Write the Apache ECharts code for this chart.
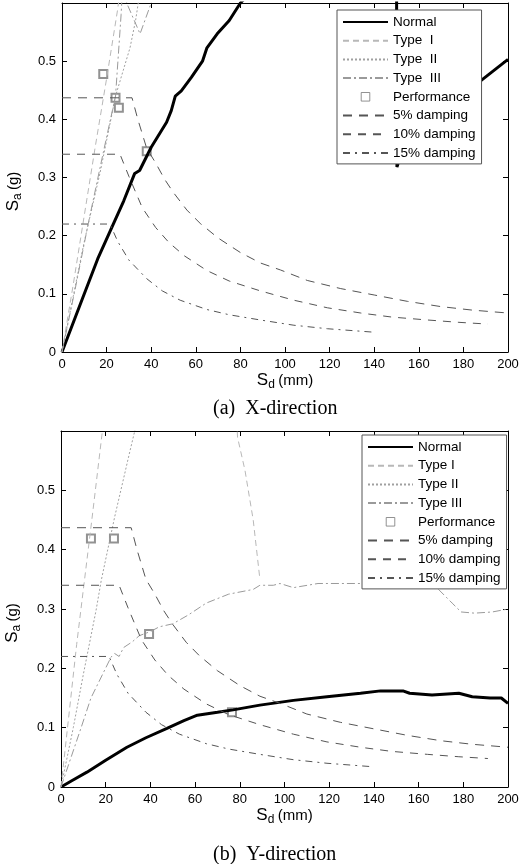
<!DOCTYPE html>
<html>
<head>
<meta charset="utf-8">
<script src="https://cdn.jsdelivr.net/npm/echarts@6/dist/echarts.min.js"></script>
<style>
  html, body { margin: 0; padding: 0; background: #fff; }
  #main { width: 519px; height: 864px; }
</style>
</head>
<body>
<div id="main"></div>
<script>
// ---- data: [Sd (mm), Sa (g)] ----
// (a) X-direction
const normalX = [[0,0],[9.4,0.094],[16,0.16],[22.8,0.218],[27.7,0.26],[32.6,0.307],[34.8,0.312],[40,0.352],[46.9,0.395],[49,0.415],[50.8,0.44],[53.5,0.449],[58,0.472],[63,0.5],[65,0.523],[69.6,0.547],[75,0.57],[80,0.6],[90,0.64],[150,0.7],[150.2,0.318],[152,0.34],[160,0.37],[175,0.42],[188,0.467],[200,0.503]];
const type1X = [[0,0],[5,0.115],[10,0.235],[15,0.355],[20,0.47],[25,0.59],[26,0.62]];
const type2X = [[0,0],[5,0.095],[10,0.19],[17,0.307],[20.6,0.375],[24,0.44],[30.5,0.523],[33,0.57],[35,0.62]];
const type3X = [[0,0],[6,0.11],[12,0.225],[18.4,0.341],[24,0.44],[26.5,0.58],[27.5,0.65],[29,0.6],[35,0.547],[40,0.6],[42,0.63]];
const perfX = [[18.5,0.478],[24,0.437],[25.5,0.42],[38,0.345]];

// (b) Y-direction
const normalY = [[0,0],[5,0.011],[11.6,0.025],[20,0.045],[29.5,0.067],[38,0.083],[47.4,0.099],[55,0.112],[61,0.121],[70,0.126],[77,0.13],[89,0.138],[104,0.146],[119,0.152],[134,0.158],[143,0.162],[153,0.162],[156,0.158],[166,0.155],[178,0.158],[184,0.152],[192,0.15],[197,0.15],[200,0.141]];
const type1Y = [[0,0],[7,0.24],[14.3,0.466],[18.3,0.593],[20,0.65],[50,0.8],[78,0.66],[79,0.589],[82.3,0.534],[86,0.45],[89,0.35]];
const type2Y = [[0,0],[5.5,0.1],[10,0.19],[15.7,0.298],[18,0.348],[24,0.455],[30.9,0.567],[33,0.6],[34,0.62]];
const type3Y = [[0,0],[9,0.1],[13.4,0.15],[22.4,0.219],[24,0.225],[26,0.22],[28,0.235],[32,0.245],[35,0.255],[40,0.262],[44,0.27],[50,0.275],[57,0.29],[65,0.31],[75,0.325],[86,0.333],[89,0.34],[95,0.34],[98,0.343],[104,0.336],[115,0.343],[134,0.343],[140,0.335],[146,0.344],[166,0.344],[175,0.31],[179,0.295],[185,0.293],[193,0.295],[200,0.3]];
const perfY = [[13.4,0.419],[23.7,0.419],[39.4,0.258],[76.5,0.126]];

// demand spectra (same in both panels)
const damp5 = [[0,0.437],[31.4,0.437],[34,0.4],[38,0.35],[42,0.325],[46,0.297],[50,0.274],[56,0.244],[62,0.221],[70,0.196],[80,0.171],[89,0.153],[98,0.141],[110,0.123],[125,0.109],[140,0.098],[155,0.087],[170,0.078],[184,0.072],[200,0.067]];
const damp10 = [[0,0.34],[26,0.34],[30,0.302],[36,0.248],[42,0.214],[48,0.188],[55,0.165],[65,0.14],[75,0.122],[89,0.105],[104,0.089],[119,0.076],[134,0.067],[148,0.06],[164,0.055],[178,0.051],[191,0.048]];
const damp15 = [[0,0.22],[21.5,0.22],[25,0.19],[30,0.158],[38,0.126],[45,0.105],[53,0.089],[65,0.073],[75,0.064],[89,0.055],[104,0.046],[119,0.04],[140,0.034]];

const xTicks = { min: 0, max: 200, interval: 20 };
const yTicks = { min: 0, max: 0.6, interval: 0.1 };
const captions = ['(a)  X-direction', '(b)  Y-direction'];
const legendTop = ['Normal','Type  I','Type  II','Type  III','Performance','5% damping','10% damping','15% damping'];
const legendBot = ['Normal','Type I','Type II','Type III','Performance','5% damping','10% damping','15% damping'];

const font = 'Liberation Sans, Arial, sans-serif';
let myChart = echarts.init(document.getElementById('main'));

const nameRich = {
  s: { fontSize: 17, fontFamily: font, color: '#000' },
  sub: { fontSize: 12, fontFamily: font, color: '#000', padding: [9, 0, 0, 0] },
  t: { fontSize: 15, fontFamily: font, color: '#000' }
};

function xAx(grid, pos, gap) {
  return {
    type: 'value', gridIndex: grid, position: pos, min: xTicks.min, max: xTicks.max, interval: xTicks.interval,
    axisLine: { onZero: false, lineStyle: { color: '#000', width: 1 } },
    axisTick: { inside: true, length: 5, lineStyle: { color: '#000' } },
    splitLine: { show: false },
    axisLabel: { show: pos === 'bottom', color: '#000', fontSize: 13, fontFamily: font, margin: 6 },
    name: pos === 'bottom' ? '{s|S}{sub|d} {t|(mm)}' : '',
    nameLocation: 'middle', nameGap: gap,
    nameTextStyle: { rich: nameRich }
  };
}
function yAx(grid, pos) {
  return {
    type: 'value', gridIndex: grid, position: pos, min: yTicks.min, max: yTicks.max, interval: yTicks.interval,
    axisLine: { onZero: false, lineStyle: { color: '#000', width: 1 } },
    axisTick: { inside: true, length: 5, lineStyle: { color: '#000' } },
    splitLine: { show: false },
    axisLabel: { show: pos === 'left', showMaxLabel: false, color: '#000', fontSize: 13, fontFamily: font, margin: 6 },
    name: pos === 'left' ? '{s|S}{sub|a} {t|(g)}' : '',
    nameLocation: 'middle', nameGap: 38, nameRotate: 90,
    nameTextStyle: { rich: nameRich, padding: [0, 28, 0, 0] }
  };
}

function panel(g, names, normal, t1, t2, t3, perf) {
  const ax = { xAxisIndex: g * 2, yAxisIndex: g * 2 };
  const ln = (name, data, color, width, type) => Object.assign({
    name, type: 'line', data, symbol: 'none', showSymbol: false, animation: false,
    lineStyle: { color, width, type }, itemStyle: { color }
  }, ax);
  return [
    ln(names[0], normal, '#000', 3, 'solid'),
    ln(names[1], t1, '#b8b8b8', 1, [6, 4]),
    ln(names[2], t2, '#a0a0a0', 1, [2, 2]),
    ln(names[3], t3, '#9a9a9a', 1, [8, 3, 2, 3]),
    Object.assign({
      name: names[4], type: 'scatter', data: perf, symbol: 'emptyRect', symbolSize: 8, animation: false,
      itemStyle: { color: '#777', borderColor: '#777', borderWidth: 1 }
    }, ax),
    ln(names[5], damp5, '#555', 1, [9, 7]),
    ln(names[6], damp10, '#555', 1, [8, 7]),
    ln(names[7], damp15, '#555', 1, [7, 5, 2, 5])
  ];
}

function legend(names, left, top) {
  return {
    data: names.map(n => n === 'Performance'
      ? { name: n, icon: 'path://M-2,-2M0,0H10V10H0ZM12,12', itemStyle: { color: 'rgba(0,0,0,0)', borderColor: '#777', borderWidth: 1 } }
      : { name: n, itemStyle: { opacity: 0 } }),
    orient: 'vertical', left, top,
    itemWidth: 45, itemHeight: 12, itemGap: 4.7,
    padding: [5, 6, 4, 5],
    backgroundColor: '#fff', borderColor: '#555', borderWidth: 1,
    textStyle: { fontSize: 13.5, fontFamily: font, color: '#000', lineHeight: 14 },
    selectedMode: false
  };
}

myChart.setOption({
  animation: false,
  backgroundColor: '#fff',
  title: [
    { text: captions[0], left: 208, top: 394, textStyle: { fontFamily: 'Liberation Serif, Times New Roman, serif', fontSize: 20, fontWeight: 'normal', color: '#000' } },
    { text: captions[1], left: 208, top: 840, textStyle: { fontFamily: 'Liberation Serif, Times New Roman, serif', fontSize: 20, fontWeight: 'normal', color: '#000' } }
  ],
  legend: [legend(legendTop, 337, 10), legend(legendBot, 362, 435)],
  grid: [
    { left: 62, top: 3, width: 446, height: 349, outerBoundsMode: 'none' },
    { left: 61, top: 431, width: 447, height: 356, outerBoundsMode: 'none' }
  ],
  xAxis: [xAx(0, 'bottom', 12), xAx(0, 'top', 12), xAx(1, 'bottom', 15), xAx(1, 'top', 15)],
  yAxis: [yAx(0, 'left'), yAx(0, 'right'), yAx(1, 'left'), yAx(1, 'right')],
  series: panel(0, legendTop, normalX, type1X, type2X, type3X, perfX)
    .concat(panel(1, legendBot, normalY, type1Y, type2Y, type3Y, perfY))
});
</script>
</body>
</html>
